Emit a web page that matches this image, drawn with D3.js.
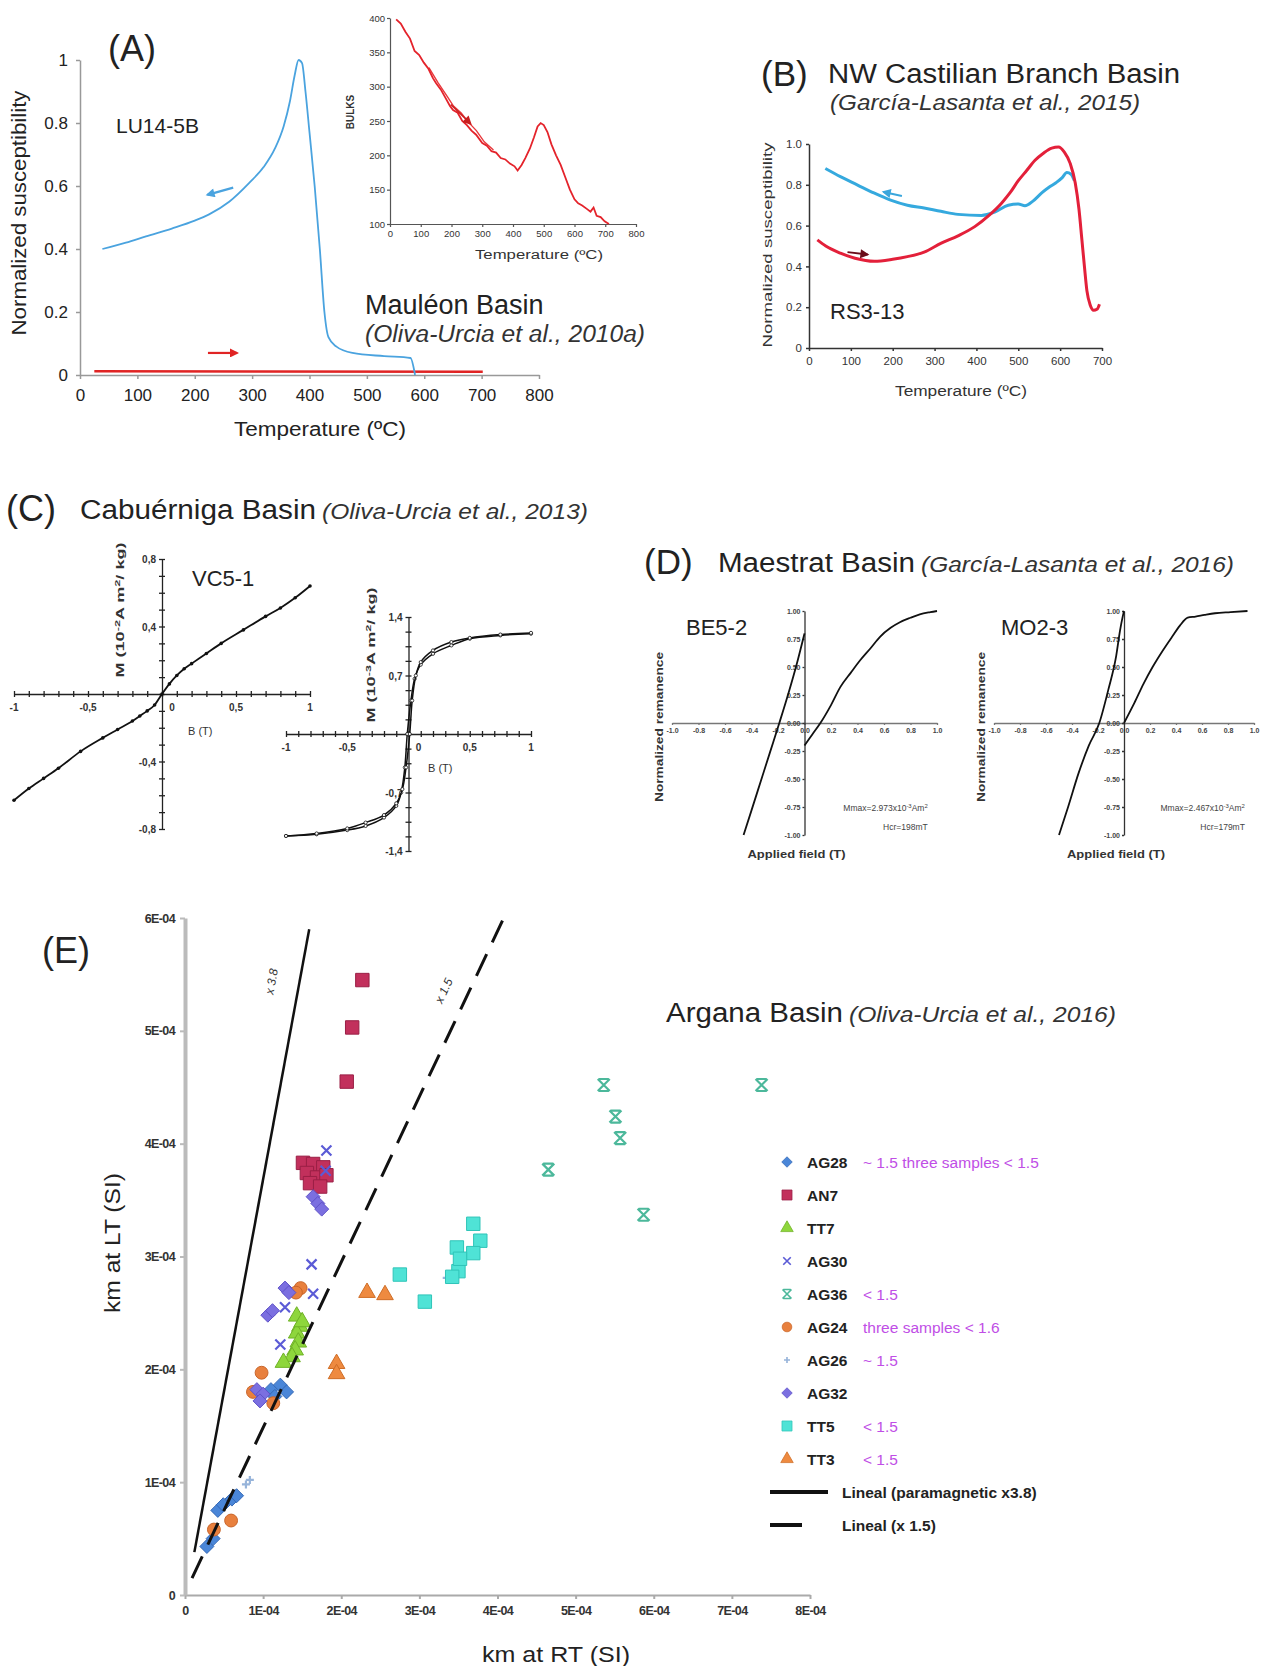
<!DOCTYPE html>
<html lang="en">
<head>
<meta charset="UTF-8">
<title>Magnetic mineralogy of five basins</title>
<script src="https://cdn.jsdelivr.net/npm/d3@7"></script>
<style>
  body { margin: 0; background: #fff; }
  svg { display: block; font-family: "Liberation Sans", Arial, sans-serif; }
</style>
</head>
<body>
<script>
// ---------- (A) Mauléon Basin, LU14-5B ----------
const tempTicksA = [0, 100, 200, 300, 400, 500, 600, 700, 800];
const suscTicksA = [0, 0.2, 0.4, 0.6, 0.8, 1];
const lu14Cooling = [[39,0.40],[80,0.42],[115,0.44],[160,0.465],[200,0.49],[225,0.51],[260,0.55],[295,0.61],[320,0.66],[340,0.72],[355,0.79],[366,0.87],[374,0.95],[381,1.0],[387,0.99],[393,0.9],[400,0.77],[409,0.6],[418,0.4],[426,0.2],[433,0.12],[447,0.09],[475,0.07],[530,0.06],[576,0.054],[584,0.0]];
const lu14Heating = [[25,0.012],[702,0.01]];
const arrowsA = [{from:[267,0.595], to:[222,0.572], c:"#4aa3df"}, {from:[223,0.07], to:[274,0.07], c:"#e02424"}];
// inset: bulk susceptibility
const insetTicksX = [0, 100, 200, 300, 400, 500, 600, 700, 800];
const insetTicksY = [100, 150, 200, 250, 300, 350, 400];
const insetHeat = [[20,398],[35,392],[50,380],[65,370],[80,352],[95,346],[110,335],[125,326],[140,312],[150,305],[165,296],[180,284],[195,272],[205,266],[220,262],[235,250],[250,244],[265,236],[280,230],[300,218],[315,214],[330,206],[345,204],[360,196],[375,194],[390,188],[405,184],[415,178],[428,186],[440,196],[455,210],[468,226],[480,242],[490,247],[500,244],[512,234],[525,216],[540,200],[555,186],[570,168],[585,150],[600,136],[612,130],[625,127],[640,122],[652,118],[662,124],[672,112],[685,110],[698,104],[712,100]];
const insetCool = [[120,332],[150,310],[180,290],[200,276],[225,266],[250,252],[275,240],[300,224],[330,212]];
const arrowInset = {from:[198,274], to:[262,246], c:"#c81e1e"};

// ---------- (B) NW Castilian Branch Basin, RS3-13 ----------
const tempTicksB = [0, 100, 200, 300, 400, 500, 600, 700];
const suscTicksB = [0, 0.2, 0.4, 0.6, 0.8, 1.0];
const rs3Heating = [[20,0.53],[40,0.5],[75,0.465],[110,0.44],[156,0.425],[200,0.435],[235,0.448],[275,0.47],[316,0.514],[356,0.55],[396,0.595],[430,0.65],[460,0.71],[480,0.76],[500,0.82],[520,0.87],[540,0.92],[560,0.955],[580,0.98],[596,0.985],[610,0.96],[624,0.905],[636,0.81],[645,0.68],[652,0.53],[658,0.4],[664,0.28],[672,0.21],[680,0.185],[688,0.19],[694,0.215]];
const rs3Cooling = [[39,0.88],[75,0.84],[115,0.80],[155,0.76],[195,0.725],[235,0.70],[275,0.686],[315,0.67],[356,0.655],[412,0.65],[445,0.668],[476,0.70],[500,0.706],[516,0.697],[535,0.72],[556,0.76],[575,0.79],[590,0.81],[605,0.835],[616,0.86],[626,0.852],[634,0.82]];
const arrowsB = [{from:[222,0.745], to:[178,0.765], c:"#3aa6dc"}, {from:[92,0.47], to:[140,0.458], c:"#6b0d1a"}];

// ---------- (C) Cabuérniga Basin, VC5-1 ----------
const fieldLabelsC = [-1, -0.5, 0.5, 1];
const vc5Labels = [-0.8, -0.4, 0.4, 0.8];
const vc5Curve = [[-1,-0.63],[-0.9,-0.56],[-0.8,-0.5],[-0.7,-0.44],[-0.55,-0.34],[-0.4,-0.26],[-0.3,-0.21],[-0.2,-0.16],[-0.15,-0.13],[-0.1,-0.1],[-0.05,-0.065],[0,0],[0.05,0.06],[0.1,0.11],[0.15,0.15],[0.2,0.18],[0.3,0.24],[0.4,0.3],[0.55,0.38],[0.7,0.46],[0.8,0.51],[0.9,0.57],[1,0.64]];
const loopLabels = [-1.4, -0.7, 0.7, 1.4];
const loopDown = [[1,1.2],[0.75,1.18],[0.5,1.14],[0.35,1.06],[0.2,0.96],[0.1,0.83],[0.05,0.66],[0.02,0.4],[-0.01,0.0],[-0.03,-0.4],[-0.06,-0.7],[-0.1,-0.86],[-0.2,-1.0],[-0.35,-1.1],[-0.5,-1.15],[-0.75,-1.2],[-1,-1.22]];
const loopUp = [[-1,-1.22],[-0.75,-1.19],[-0.5,-1.13],[-0.35,-1.06],[-0.2,-0.97],[-0.1,-0.83],[-0.05,-0.66],[-0.02,-0.4],[0.01,0.0],[0.03,0.4],[0.06,0.7],[0.1,0.86],[0.2,1.0],[0.35,1.1],[0.5,1.15],[0.75,1.19],[1,1.21]];

// ---------- (D) Maestrat Basin, BE5-2 and MO2-3 ----------
const fieldTicksD = [-1, -0.8, -0.6, -0.4, -0.2, 0, 0.2, 0.4, 0.6, 0.8, 1];
const remTicksD = [-1, -0.75, -0.5, -0.25, 0, 0.25, 0.5, 0.75, 1];
const be5Back = [[-0.46,-1.0],[-0.4,-0.78],[-0.33,-0.52],[-0.26,-0.26],[-0.19,0.0],[-0.12,0.27],[-0.06,0.52],[0.0,0.8]];
const be5Fwd = [[0.0,-0.2],[0.06,-0.1],[0.12,0.0],[0.2,0.16],[0.27,0.32],[0.35,0.45],[0.42,0.56],[0.5,0.67],[0.57,0.77],[0.65,0.85],[0.72,0.9],[0.8,0.94],[0.87,0.97],[0.95,0.99],[1.0,1.0]];
const mo2Back = [[-0.5,-1.0],[-0.43,-0.75],[-0.35,-0.45],[-0.27,-0.2],[-0.19,0.0],[-0.12,0.3],[-0.06,0.6],[-0.03,0.83],[-0.01,0.95],[0,1.0]];
const mo2Fwd = [[0.0,0.0],[0.08,0.18],[0.15,0.35],[0.22,0.5],[0.3,0.65],[0.37,0.77],[0.43,0.87],[0.49,0.94],[0.55,0.95],[0.62,0.965],[0.7,0.98],[0.82,0.99],[0.95,1.0]];

// ---------- (E) Argana Basin: km at LT vs km at RT (values x 1E-04) ----------
const rtTicks = [0, 1, 2, 3, 4, 5, 6, 7, 8];
const ltTicks = [0, 1, 2, 3, 4, 5, 6];
const ag28 = [[0.28,0.43],[0.36,0.50],[0.42,0.75],[0.49,0.80],[0.60,0.85],[0.66,0.88],[1.10,1.82],[1.22,1.86],[1.30,1.80],[1.15,1.76]];
const an7 = [[2.27,5.45],[2.14,5.03],[2.07,4.55],[1.51,3.83],[1.64,3.82],[1.77,3.79],[1.56,3.74],[1.69,3.70],[1.81,3.72],[1.60,3.65],[1.73,3.62]];
const tt7 = [[1.43,2.47],[1.47,2.38],[1.43,2.32],[1.45,2.24],[1.41,2.17],[1.37,2.11],[1.26,2.06],[1.50,2.42]];
const ag30 = [[1.81,3.94],[1.80,3.76],[1.62,2.93],[1.64,2.67],[1.28,2.55],[1.22,2.22]];
const ag36 = [[5.36,4.52],[7.38,4.52],[5.51,4.24],[5.57,4.05],[4.65,3.77],[5.87,3.37]];
const ag24 = [[0.37,0.58],[0.59,0.66],[0.98,1.97],[0.87,1.80],[1.13,1.70],[1.48,2.72],[1.42,2.68]];
const ag26 = [[0.83,1.02],[0.78,0.98],[3.35,2.81]];
const ag32 = [[1.64,3.53],[1.70,3.47],[1.75,3.42],[1.28,2.72],[1.33,2.68],[1.06,2.48],[1.12,2.52],[0.92,1.82],[1.0,1.78],[0.96,1.72]];
const tt5 = [[2.75,2.84],[3.07,2.60],[3.69,3.29],[3.78,3.14],[3.48,3.08],[3.69,3.03],[3.50,2.87],[3.52,2.98],[3.42,2.82]];
const tt3 = [[2.33,2.68],[2.56,2.66],[1.94,2.05],[1.94,1.96]];
const fitPara = [[0.12,0.38],[1.59,5.9]];   // paramagnetic x3.8
const fitX15 = [[0.09,0.15],[4.08,6.0]];    // x 1.5
const fitLabels = [{t:"x 3.8", at:[1.16,5.43], rot:-80}, {t:"x 1.5", at:[3.36,5.34], rot:-65}];
const seriesNames = ["AG28","AN7","TT7","AG30","AG36","AG24","AG26","AG32","TT5","TT3"];
const seriesNotes = ["~ 1.5   three samples < 1.5","","","","< 1.5","three samples < 1.6","~ 1.5","","< 1.5","< 1.5"];

const svg = d3.select("body").append("svg").attr("width", 1265).attr("height", 1666);
const FONT = '"Liberation Sans", Arial, sans-serif';
svg.append("rect").attr("width", 1265).attr("height", 1666).attr("fill", "#fff");

function txt(x, y, s, size, o = {}) {
  const t = svg.append("text")
    .attr("font-size", size)
    .attr("fill", o.fill || "#222")
    .attr("text-anchor", o.anchor || "start");
  if (o.rotate) t.attr("transform", `translate(${x},${y}) rotate(${o.rotate})`);
  else t.attr("x", x).attr("y", y);
  if (o.italic) t.attr("font-style", "italic");
  if (o.weight) t.attr("font-weight", o.weight);
  if (o.len) t.attr("textLength", o.len).attr("lengthAdjust", "spacingAndGlyphs");
  if (Array.isArray(s)) {
    s.forEach(p => t.append("tspan").text(p[0])
      .attr("baseline-shift", p[1] ? "super" : null)
      .attr("font-size", p[1] ? size * 0.7 : null));
  } else t.text(s);
  return t;
}
function styleAxis(g, size, color, lineColor, width) {
  g.attr("font-family", FONT);
  g.selectAll("text").attr("font-size", size).attr("fill", color);
  g.selectAll("path, line").attr("stroke", lineColor).attr("stroke-width", width || 1);
}
const defs = svg.append("defs");
function arrow(x, y, a, w) {
  const id = "ar" + a.c.slice(1);
  if (defs.select("#" + id).empty()) {
    defs.append("marker").attr("id", id).attr("viewBox", "0 0 10 10")
      .attr("refX", 8).attr("refY", 5).attr("markerWidth", 10).attr("markerHeight", 9)
      .attr("markerUnits", "userSpaceOnUse").attr("orient", "auto")
      .append("path").attr("d", "M0,0L10,5L0,10z").attr("fill", a.c);
  }
  svg.append("line")
    .attr("x1", x(a.from[0])).attr("y1", y(a.from[1]))
    .attr("x2", x(a.to[0])).attr("y2", y(a.to[1]))
    .attr("stroke", a.c).attr("stroke-width", w || 2)
    .attr("marker-end", `url(#${id})`);
}

// ================= (A) =================
const xA = d3.scaleLinear([0, 800], [80, 539]);
const yA = d3.scaleLinear([0, 1], [375, 60]);
svg.append("g").attr("transform", "translate(0,375)")
  .call(d3.axisBottom(xA).tickValues(tempTicksA).tickSize(4).tickPadding(10).tickSizeOuter(0))
  .call(g => styleAxis(g, 17, "#222", "#999", 1.5));
svg.append("g").attr("transform", "translate(80,0)")
  .call(d3.axisLeft(yA).tickValues(suscTicksA).tickSize(4).tickPadding(8).tickSizeOuter(0)
    .tickFormat(d => d === 0 || d === 1 ? d : d.toFixed(1)))
  .call(g => styleAxis(g, 17, "#222", "#999", 1.5));
txt(26, 213, "Normalized susceptibility", 20, {rotate: -90, anchor: "middle", len: 245});
txt(320, 436, "Temperature (ºC)", 20, {anchor: "middle", len: 172});
txt(108, 61, "(A)", 36);
txt(116, 133, "LU14-5B", 21);
txt(365, 314, "Mauléon Basin", 27);
txt(365, 342, "(Oliva-Urcia et al., 2010a)", 23, {italic: true, fill: "#333", len: 280});

const lineA = d3.line().x(d => xA(d[0])).y(d => yA(d[1])).curve(d3.curveMonotoneX);
svg.append("path").attr("d", lineA(lu14Heating)).attr("fill", "none")
  .attr("stroke", "#e02424").attr("stroke-width", 2.5);
svg.append("path").attr("d", lineA(lu14Cooling)).attr("fill", "none")
  .attr("stroke", "#4aa3df").attr("stroke-width", 1.8);
arrowsA.forEach(a => arrow(xA, yA, a, 2.2));

// inset
const xI = d3.scaleLinear([0, 800], [390, 636]);
const yI = d3.scaleLinear([100, 400], [224, 18]);
svg.append("g").attr("transform", "translate(0,224)")
  .call(d3.axisBottom(xI).tickValues(insetTicksX).tickSize(3).tickPadding(3).tickSizeOuter(0))
  .call(g => styleAxis(g, 9.5, "#333", "#555", 1.2));
svg.append("g").attr("transform", "translate(390,0)")
  .call(d3.axisLeft(yI).tickValues(insetTicksY).tickSize(3).tickPadding(2).tickSizeOuter(0))
  .call(g => styleAxis(g, 9.5, "#333", "#555", 1.2));
txt(354, 112, "BULKS", 10, {rotate: -90, anchor: "middle", weight: "bold", fill: "#333"});
txt(539, 259, "Temperature (ºC)", 12.5, {anchor: "middle", len: 128, fill: "#333"});
const lineI = d3.line().x(d => xI(d[0])).y(d => yI(d[1]));
svg.append("path").attr("d", lineI(insetCool)).attr("fill", "none")
  .attr("stroke", "#e8383c").attr("stroke-width", 1.4).attr("transform", "translate(2,3)");
svg.append("path").attr("d", lineI(insetHeat)).attr("fill", "none")
  .attr("stroke", "#e4232b").attr("stroke-width", 1.8);
arrow(xI, yI, arrowInset, 1.6);

// ================= (B) =================
const xB = d3.scaleLinear([0, 700], [809, 1102]);
const yB = d3.scaleLinear([0, 1], [348, 144]);
svg.append("g").attr("transform", "translate(0,348)")
  .call(d3.axisBottom(xB).tickValues(tempTicksB).tickSize(3).tickPadding(6).tickSizeOuter(0))
  .call(g => styleAxis(g, 11.5, "#333", "#333", 1.5));
svg.append("g").attr("transform", "translate(809,0)")
  .call(d3.axisLeft(yB).tickValues(suscTicksB).tickSize(3).tickPadding(4).tickSizeOuter(0)
    .tickFormat(d => d === 0 ? "0" : d.toFixed(1)))
  .call(g => styleAxis(g, 11.5, "#333", "#333", 1.5));
txt(772, 245, "Normalized susceptibility", 13, {rotate: -90, anchor: "middle", len: 205, fill: "#333"});
txt(961, 396, "Temperature (ºC)", 14, {anchor: "middle", len: 132, fill: "#333"});
txt(761, 86, "(B)", 35);
txt(828, 83, "NW Castilian Branch Basin", 27, {len: 352});
txt(830, 110, "(García-Lasanta et al., 2015)", 22, {italic: true, fill: "#333", len: 310});
txt(830, 319, "RS3-13", 22);
const lineB = d3.line().x(d => xB(d[0])).y(d => yB(d[1])).curve(d3.curveMonotoneX);
svg.append("path").attr("d", lineB(rs3Cooling)).attr("fill", "none")
  .attr("stroke", "#35a9de").attr("stroke-width", 3);
svg.append("path").attr("d", lineB(rs3Heating)).attr("fill", "none")
  .attr("stroke", "#e3203a").attr("stroke-width", 3);
arrowsB.forEach(a => arrow(xB, yB, a, 2));

// ================= (C) =================
txt(6, 521, "(C)", 36);
txt(80, 519, "Cabuérniga Basin", 27, {len: 236});
txt(322, 519, "(Oliva-Urcia et al., 2013)", 22, {italic: true, fill: "#333", len: 266});

function crossAxes(x, y, xMinor, yMinor, xLab, yLab, fs) {
  const x0 = x(0), y0 = y(0);
  const gx = svg.append("g").attr("transform", `translate(0,${y0})`)
    .call(d3.axisBottom(x).tickValues(xMinor).tickSize(3).tickSizeOuter(0).tickFormat(""));
  gx.selectAll(".tick line").attr("y1", -3);
  styleAxis(gx, fs, "#333", "#222", 1.3);
  const gy = svg.append("g").attr("transform", `translate(${x0},0)`)
    .call(d3.axisLeft(y).tickValues(yMinor).tickSize(3).tickSizeOuter(0).tickFormat(""));
  gy.selectAll(".tick line").attr("x1", 3);
  styleAxis(gy, fs, "#333", "#222", 1.3);
  const comma = d => String(d).replace(".", ",");
  svg.append("g").attr("font-size", fs).attr("fill", "#333").attr("font-weight", "bold")
    .selectAll("text").data(xLab).join("text")
    .attr("x", d => x(d)).attr("y", y0 + 17).attr("text-anchor", "middle").text(comma);
  svg.append("text").attr("font-size", fs).attr("fill", "#333").attr("font-weight", "bold")
    .attr("x", x0 + 10).attr("y", y0 + 17).attr("text-anchor", "middle").text("0");
  svg.append("g").attr("font-size", fs).attr("fill", "#333").attr("font-weight", "bold")
    .selectAll("text").data(yLab).join("text")
    .attr("x", x0 - 6).attr("y", d => y(d) + 4).attr("text-anchor", "end").text(comma);
}
// left: VC5-1
const xC1 = d3.scaleLinear([-1, 1], [14, 310]);
const yC1 = d3.scaleLinear([-0.8, 0.8], [829, 559]);
crossAxes(xC1, yC1, d3.range(-1, 1.001, 0.1), d3.range(-0.8, 0.801, 0.1), fieldLabelsC, vc5Labels, 10);
txt(124, 610, [["M (10"], ["-2", 1], ["A m"], ["2", 1], ["/ kg)"]], 11.5, {rotate: -90, anchor: "middle", weight: "bold", fill: "#333", len: 135});
txt(188, 735, "B (T)", 11, {fill: "#333"});
txt(192, 586, "VC5-1", 22);
const lineC1 = d3.line().x(d => xC1(d[0])).y(d => yC1(d[1])).curve(d3.curveMonotoneX);
svg.append("path").attr("d", lineC1(vc5Curve)).attr("fill", "none").attr("stroke", "#111").attr("stroke-width", 1.8);
svg.append("g").selectAll("circle").data(vc5Curve).join("circle")
  .attr("cx", d => xC1(d[0])).attr("cy", d => yC1(d[1])).attr("r", 1.8).attr("fill", "#111");

// right: hysteresis loop
const xC2 = d3.scaleLinear([-1, 1], [286, 531]);
const yC2 = d3.scaleLinear([-1.4, 1.4], [851, 617]);
crossAxes(xC2, yC2, d3.range(-1, 1.001, 0.1), d3.range(-1.4, 1.401, 0.175), fieldLabelsC, loopLabels, 10);
txt(375, 655, [["M (10"], ["-3", 1], ["A m"], ["2", 1], ["/ kg)"]], 11.5, {rotate: -90, anchor: "middle", weight: "bold", fill: "#333", len: 135});
txt(428, 772, "B (T)", 11, {fill: "#333"});
const lineC2 = d3.line().x(d => xC2(d[0])).y(d => yC2(d[1])).curve(d3.curveCatmullRom);
[loopDown, loopUp].forEach(s => {
  svg.append("path").attr("d", lineC2(s)).attr("fill", "none").attr("stroke", "#111").attr("stroke-width", 1.5);
  svg.append("g").selectAll("circle").data(s).join("circle")
    .attr("cx", d => xC2(d[0])).attr("cy", d => yC2(d[1])).attr("r", 1.6)
    .attr("fill", "#fff").attr("stroke", "#111").attr("stroke-width", 0.8);
});

// ================= (D) =================
txt(644, 574, "(D)", 35);
txt(718, 572, "Maestrat Basin", 27, {len: 197});
txt(921, 572, "(García-Lasanta et al., 2016)", 22, {italic: true, fill: "#333", len: 313});
const yD = d3.scaleLinear([-1, 1], [835, 611]);
function remPlot(x, back, fwd, name, nameX, mmax, hcr) {
  const x0 = x(0), y0 = yD(0);
  const gx = svg.append("g").attr("transform", `translate(0,${y0})`)
    .call(d3.axisBottom(x).tickValues(fieldTicksD).tickSize(2).tickPadding(3).tickSizeOuter(0)
      .tickFormat(d => d.toFixed(1)));
  styleAxis(gx, 7, "#444", "#777", 1.3);
  gx.selectAll("text").attr("font-weight", "bold");
  const gy = svg.append("g").attr("transform", `translate(${x0},0)`)
    .call(d3.axisLeft(yD).tickValues(remTicksD).tickSize(2).tickPadding(2).tickSizeOuter(0)
      .tickFormat(d => d.toFixed(2)));
  styleAxis(gy, 7, "#444", "#333", 1.3);
  gy.selectAll("text").attr("font-weight", "bold");
  const ln = d3.line().x(d => x(d[0])).y(d => yD(d[1])).curve(d3.curveMonotoneX);
  [back, fwd].forEach(s => svg.append("path").attr("d", ln(s)).attr("fill", "none")
    .attr("stroke", "#111").attr("stroke-width", 1.8));
  txt(x(-1) - 9, 727, "Normalized remanence", 11, {rotate: -90, anchor: "middle", weight: "bold", fill: "#333", len: 150});
  txt(x0 - 8, 858, "Applied field (T)", 11.5, {anchor: "middle", weight: "bold", fill: "#333", len: 98});
  txt(nameX, 635, name, 22);
  txt(x(0.93), 811, [["Mmax=" + mmax + "x10"], ["-3", 1], ["Am"], ["2", 1]], 8.5, {anchor: "end", fill: "#444"});
  txt(x(0.93), 830, "Hcr=" + hcr, 8.5, {anchor: "end", fill: "#444"});
}
remPlot(d3.scaleLinear([-1, 1], [672, 937]), be5Back, be5Fwd, "BE5-2", 686, "2.973", "198mT");
remPlot(d3.scaleLinear([-1, 1], [994, 1254]), mo2Back, mo2Fwd, "MO2-3", 1001, "2.467", "179mT");

// ================= (E) =================
txt(42, 963, "(E)", 36);
txt(666, 1022, "Argana Basin", 27, {len: 177});
txt(849, 1022, "(Oliva-Urcia et al., 2016)", 22, {italic: true, fill: "#333", len: 267});
const xE = d3.scaleLinear([0, 8], [185, 810]);
const yE = d3.scaleLinear([0, 6], [1595, 918]);
const fmtE = d => d === 0 ? "0" : d + "E-04";
svg.append("g").attr("transform", "translate(0,1595)")
  .call(d3.axisBottom(xE).tickValues(rtTicks).tickSize(4).tickPadding(7).tickSizeOuter(0).tickFormat(fmtE))
  .call(g => { styleAxis(g, 12.5, "#333", "#aaa", 2); g.selectAll("text").attr("font-weight", "bold").attr("letter-spacing", -0.6); });
svg.append("g").attr("transform", "translate(185,0)")
  .call(d3.axisLeft(yE).tickValues(ltTicks).tickSize(5).tickPadding(5).tickSizeOuter(0).tickFormat(fmtE))
  .call(g => { styleAxis(g, 12.5, "#333", "#bbb", 2); g.select(".domain").attr("stroke-width", 4); g.selectAll("text").attr("font-weight", "bold").attr("letter-spacing", -0.6); });
txt(120, 1243, "km at LT (SI)", 22, {rotate: -90, anchor: "middle", len: 140});
txt(556, 1662, "km at RT (SI)", 22, {anchor: "middle", len: 148});

const S = 7;
const shapes = {
  square: d3.symbol(d3.symbolSquare, 180)(),
  diamond: `M0,${-S}L${S},0L0,${S}L${-S},0Z`,
  circle: d3.symbol(d3.symbolCircle, 130)(),
  triangle: d3.symbol(d3.symbolTriangle, 120)(),
  times: "M-5,-5L5,5M-5,5L5,-5",
  star: "M-6,-6L6,6M-6,6L6,-6M-5,-6L5,-6M-5,6L5,6",
  plus: "M-4,0L4,0M0,-4L0,4"
};
const series = [
  {data: ag28, shape: "diamond", c: "#4a86d8", stroke: "#3569b6"},
  {data: an7, shape: "square", c: "#c2305c", stroke: "#9a1f45"},
  {data: tt7, shape: "triangle", c: "#8ed63c", stroke: "#6fb226"},
  {data: ag30, shape: "times", c: "#5b5bd6", line: true},
  {data: ag36, shape: "star", c: "#4cb89b", line: true},
  {data: ag24, shape: "circle", c: "#e8803e", stroke: "#c9652a"},
  {data: ag26, shape: "plus", c: "#97b4da", line: true},
  {data: ag32, shape: "diamond", c: "#7b6fe0", stroke: "#5f52c8"},
  {data: tt5, shape: "square", c: "#4fe3d6", stroke: "#2fc4b8"},
  {data: tt3, shape: "triangle", c: "#ee8a40", stroke: "#cf6d26"}
];
function drawMark(g, s) {
  const p = g.append("path").attr("d", shapes[s.shape]);
  if (s.line) p.attr("fill", "none").attr("stroke", s.c).attr("stroke-width", 2.2);
  else p.attr("fill", s.c).attr("stroke", s.stroke).attr("stroke-width", 1);
}
series.forEach(s => {
  svg.append("g").selectAll("g").data(s.data).join("g")
    .attr("transform", d => `translate(${xE(d[0])},${yE(d[1])})`)
    .each(function () { drawMark(d3.select(this), s); });
});
// fitted lines
const lineE = d3.line().x(d => xE(d[0])).y(d => yE(d[1]));
svg.append("path").attr("d", lineE(fitPara)).attr("stroke", "#111").attr("stroke-width", 2.5).attr("fill", "none");
svg.append("path").attr("d", lineE(fitX15)).attr("stroke", "#111").attr("stroke-width", 3)
  .attr("stroke-dasharray", "24,13").attr("fill", "none");
fitLabels.forEach(l => txt(xE(l.at[0]), yE(l.at[1]), l.t, 12, {rotate: l.rot, anchor: "middle", fill: "#333", italic: true}));

// legend
const lgY = d3.scaleLinear([0, 11], [1162, 1525]);
series.forEach((s, i) => {
  const g = svg.append("g").attr("transform", `translate(787,${lgY(i)}) scale(0.75)`);
  drawMark(g, s);
  txt(807, lgY(i) + 6, seriesNames[i], 15.5, {weight: "bold", fill: "#222"});
  if (seriesNotes[i]) txt(863, lgY(i) + 6, seriesNotes[i], 15.5, {fill: "#c04ee6"});
});
svg.append("line").attr("x1", 770).attr("x2", 828).attr("y1", lgY(10)).attr("y2", lgY(10))
  .attr("stroke", "#111").attr("stroke-width", 4);
txt(842, lgY(10) + 6, "Lineal (paramagnetic x3.8)", 15.5, {weight: "bold", fill: "#222"});
svg.append("line").attr("x1", 770).attr("x2", 802).attr("y1", lgY(11)).attr("y2", lgY(11))
  .attr("stroke", "#111").attr("stroke-width", 4);
txt(842, lgY(11) + 6, "Lineal (x 1.5)", 15.5, {weight: "bold", fill: "#222"});
</script>
</body>
</html>
